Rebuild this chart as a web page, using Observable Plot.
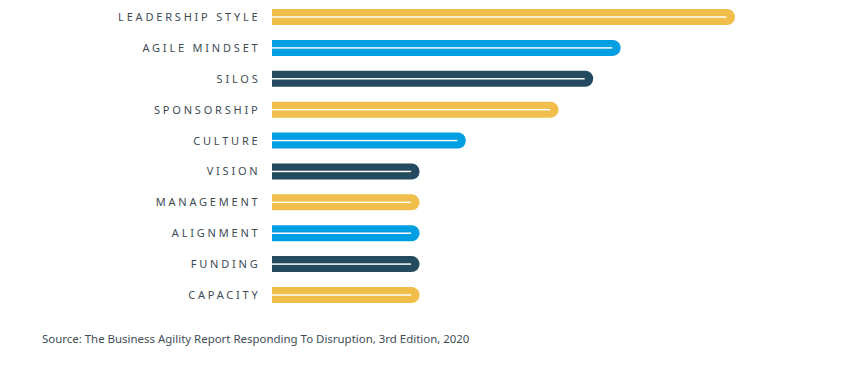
<!DOCTYPE html>
<html>
<head>
<meta charset="utf-8">
<script src="https://cdn.jsdelivr.net/npm/d3@7"></script>
<script src="https://cdn.jsdelivr.net/npm/@observablehq/plot@0.6"></script>
<style>
  body { margin: 0; background: #fff; font-family: "Noto Sans", sans-serif; }
  #chart svg text { letter-spacing: 2.8px; }
  .caption { margin: 21px 0 0 42px; font-size: 11.45px; color: #3f4d57; font-family: "Noto Sans", sans-serif; }
</style>
</head>
<body>
<div id="chart"></div>
<div class="caption">Source: The Business Agility Report Responding To Disruption, 3rd Edition, 2020</div>
<script>
const categories = ["LEADERSHIP STYLE", "AGILE MINDSET", "SILOS", "SPONSORSHIP", "CULTURE", "VISION", "MANAGEMENT", "ALIGNMENT", "FUNDING", "CAPACITY"];
const values = [32, 24.1, 22.2, 19.8, 13.4, 10.2, 10.2, 10.2, 10.2, 10.2];
const colorKeys = ["yellow", "blue", "dark", "yellow", "blue", "dark", "yellow", "blue", "dark", "yellow"];

const data = categories.map((c, i) => ({category: c, value: values[i], key: colorKeys[i]}));

const chart = Plot.plot({
  width: 853,
  height: 310,
  marginLeft: 272,
  marginRight: 118,
  marginTop: 9,
  marginBottom: 7,
  style: {fontFamily: "Noto Sans, sans-serif", fontSize: "11px", color: "#3d4b55"},
  x: {domain: [0, 32], axis: null},
  y: {domain: categories, padding: 0.48, paddingOuter: 0, round: false, label: null},
  color: {domain: ["yellow", "blue", "dark"], range: ["#F2BE4B", "#009EE2", "#234A5E"]},
  marks: [
    Plot.barX(data, {x1: 0, x2: "value", y: "category", fill: "key", rx: 8, insetLeft: -12, clip: true}),
    Plot.barX(data, {x1: 0, x2: "value", y: "category", fill: "white", insetTop: 7.3, insetBottom: 7.3, insetRight: 8.5}),
    Plot.axisY({tickSize: 0, tickPadding: 12, fill: "#3d4b55"})
  ]
});
document.getElementById("chart").appendChild(chart);
</script>
</body>
</html>
